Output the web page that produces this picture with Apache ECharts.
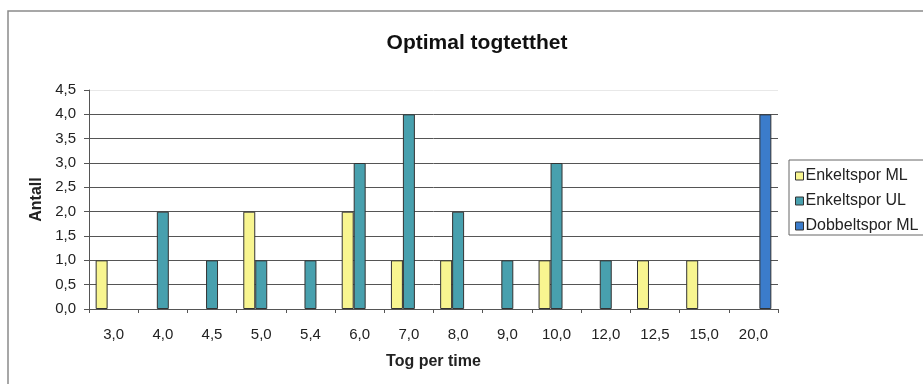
<!DOCTYPE html>
<html>
<head>
<meta charset="utf-8">
<script src="https://cdn.jsdelivr.net/npm/echarts@6/dist/echarts.min.js"></script>
<style>
  html, body { margin: 0; padding: 0; background: #fff; }
  #chart { width: 923px; height: 384px; }
</style>
</head>
<body>
<div id="chart"></div>
<script>
// Trains per hour (x categories) and number of cases per track type
const categories = ['3,0', '4,0', '4,5', '5,0', '5,4', '6,0', '7,0', '8,0', '9,0', '10,0', '12,0', '12,5', '15,0', '20,0'];
const enkeltsporML = [1, null, null, 2, null, 2, 1, 1, null, 1, null, 1, 1, null];
const enkeltsporUL = [null, 2, 1, 1, 1, 3, 4, 2, 1, 3, 1, null, null, null];
const dobbeltsporML = [null, null, null, null, null, null, null, null, null, null, null, null, null, 4];
const seriesNames = ['Enkeltspor ML', 'Enkeltspor UL', 'Dobbeltspor ML'];

const fmt = v => v.toFixed(1).replace('.', ',');
const font = 'Arial, "Liberation Sans", sans-serif';

const chart = echarts.init(document.getElementById('chart'), null, { renderer: 'canvas' });

const barStyle = color => ({ color: color, borderColor: '#333', borderWidth: 1 });

chart.setOption({
  animation: false,
  backgroundColor: '#fff',
  title: {
    text: 'Optimal togtetthet',
    left: 472,
    textAlign: 'center',
    top: 28,
    textStyle: { fontFamily: font, fontSize: 21, fontWeight: 'bold', color: '#111' }
  },
  graphic: [{
    type: 'rect',
    shape: { x: 8, y: 11, width: 940, height: 420 },
    style: { fill: 'none', stroke: '#8a8a8a', lineWidth: 1.5 },
    silent: true
  }],
  legend: {
    orient: 'vertical',
    left: 789,
    top: 160,
    padding: [8, 14, 1, 6],
    itemGap: 9,
    itemWidth: 8,
    itemHeight: 8,
    borderColor: '#666',
    borderWidth: 1,
    icon: 'rect',
    itemStyle: { borderColor: '#333', borderWidth: 1 },
    textStyle: { fontFamily: font, fontSize: 16, color: '#222', padding: [0, 0, 0, -3] },
    data: seriesNames
  },
  grid: { left: 89, right: 145, top: 90, bottom: 75, containLabel: false },
  xAxis: {
    type: 'category',
    data: categories,
    name: 'Tog per time',
    nameLocation: 'middle',
    nameGap: 45,
    nameTextStyle: { fontFamily: font, fontSize: 16, fontWeight: 'bold', color: '#222' },
    axisLine: { lineStyle: { color: '#555', width: 1 } },
    axisTick: { show: true, length: 4, lineStyle: { color: '#555' } },
    axisLabel: { margin: 18, fontFamily: font, fontSize: 15, color: '#222' }
  },
  yAxis: {
    type: 'value',
    min: 0,
    max: 4.5,
    interval: 0.5,
    name: 'Antall',
    nameLocation: 'middle',
    nameGap: 44,
    nameTextStyle: { fontFamily: font, fontSize: 16, fontWeight: 'bold', color: '#222' },
    axisLine: { show: true, lineStyle: { color: '#555', width: 1 } },
    axisTick: { show: true, length: 5, lineStyle: { color: '#555' } },
    axisLabel: { margin: 13, fontFamily: font, fontSize: 15, color: '#222', formatter: fmt },
    splitLine: {
      show: true,
      lineStyle: {
        color: ['#555', '#555', '#555', '#555', '#555', '#555', '#555', '#555', '#555', '#e8e8e8'],
        width: 1
      }
    }
  },
  series: [
    { name: seriesNames[0], type: 'bar', data: enkeltsporML, itemStyle: barStyle('#f8f590'), barGap: '0%', barCategoryGap: '27%' },
    { name: seriesNames[1], type: 'bar', data: enkeltsporUL, itemStyle: barStyle('#48a0ae'), barGap: '0%', barCategoryGap: '27%' },
    { name: seriesNames[2], type: 'bar', data: dobbeltsporML, itemStyle: barStyle('#3b7ccb'), barGap: '0%', barCategoryGap: '27%' }
  ]
});
</script>
</body>
</html>
